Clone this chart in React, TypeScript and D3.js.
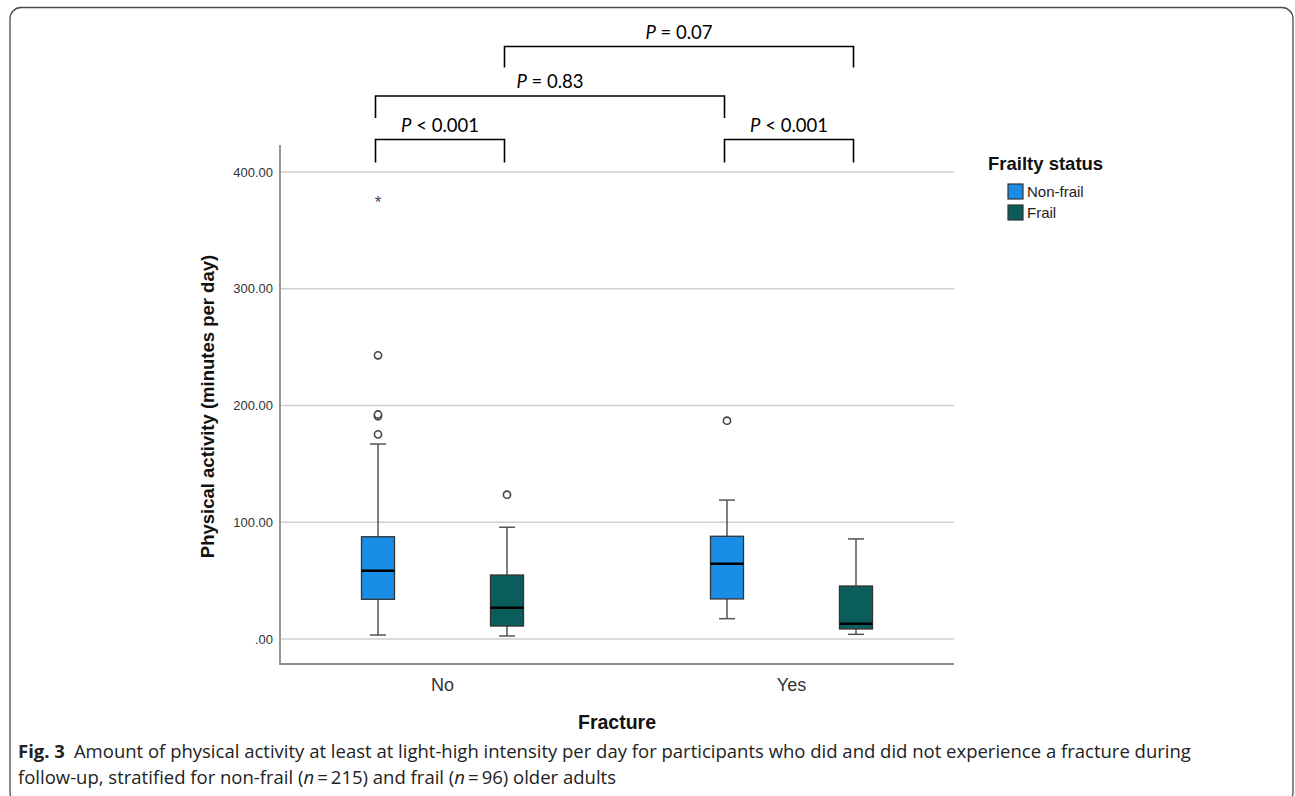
import React, { useEffect, useRef } from 'react';
import * as d3 from 'd3';

// categories
const fractureGroups = ['No', 'Yes'];
const frailtyGroups = ['Non-frail', 'Frail'];
const frailtyColors = ['#1a8de6', '#0b5d5b'];

// box stats, order: No/Non-frail, No/Frail, Yes/Non-frail, Yes/Frail
const boxFracture = ['No', 'No', 'Yes', 'Yes'];
const boxFrailty = ['Non-frail', 'Frail', 'Non-frail', 'Frail'];
const whiskerLow = [3.4, 2.6, 17.4, 4.0];
const quartile1 = [34.0, 11.1, 34.3, 8.6];
const medians = [58.5, 26.8, 64.5, 13.1];
const quartile3 = [87.6, 54.8, 88.0, 45.4];
const whiskerHigh = [167, 95.7, 119, 85.7];

// outliers (circles) and extremes (stars)
const outlierFracture = ['No', 'No', 'No', 'No', 'No', 'Yes'];
const outlierFrailty = ['Non-frail', 'Non-frail', 'Non-frail', 'Non-frail', 'Frail', 'Non-frail'];
const outlierValues = [175.3, 190.8, 192.3, 243, 123.6, 187];
const extremeFracture = ['No'];
const extremeFrailty = ['Non-frail'];
const extremeValues = [376];

const yTicks = [0, 100, 200, 300, 400];

// significance brackets
const bracketFrom = ['No|Non-frail', 'No|Non-frail', 'No|Frail', 'Yes|Non-frail'];
const bracketTo = ['No|Frail', 'Yes|Non-frail', 'Yes|Frail', 'Yes|Frail'];
const bracketOp = ['<', '=', '=', '<'];
const bracketP = ['0.001', '0.83', '0.07', '0.001'];
const bracketLevel = [0, 1, 2, 0];

const captionLine1 = 'Amount of physical activity at least at light-high intensity per day for participants who did and did not experience a fracture during';

const App = () => {
  const chartRef = useRef<SVGSVGElement>(null);

  useEffect(() => {
    const width = 1295;
    const height = 796;
    const axisFont = '"Liberation Sans", Arial, sans-serif';
    const plot = { left: 280, right: 954, top: 145, bottom: 664 };

    const svg = d3.select(chartRef.current)
      .attr('width', width)
      .attr('height', height);
    svg.selectAll('*').remove();

    // frame
    svg.append('rect')
      .attr('x', 10).attr('y', 7.5)
      .attr('width', 1283).attr('height', 796)
      .attr('rx', 11).attr('ry', 11)
      .attr('fill', '#fff')
      .attr('stroke', '#4a4a4a')
      .attr('stroke-width', 1.3);

    const xScale = d3.scalePoint<string>()
      .domain(fractureGroups)
      .range([442.5, 791.5]);

    const xSub = d3.scalePoint<string>()
      .domain(frailtyGroups)
      .range([-64.5, 64.5]);

    const yScale = d3.scaleLinear()
      .domain([0, 400])
      .range([639, 172]);

    const color = d3.scaleOrdinal<string, string>()
      .domain(frailtyGroups)
      .range(frailtyColors);

    const cx = (f: string, s: string) => (xScale(f) as number) + (xSub(s) as number);
    const boxW = 33;
    const capW = 16;

    // gridlines
    svg.append('g')
      .selectAll('line')
      .data(yTicks)
      .enter().append('line')
      .attr('x1', plot.left).attr('x2', plot.right)
      .attr('y1', d => yScale(d)).attr('y2', d => yScale(d))
      .attr('stroke', '#cfcfcf')
      .attr('stroke-width', 1.6);

    // y axis
    const yAxis = svg.append('g')
      .attr('transform', `translate(${plot.left},0)`)
      .call(d3.axisLeft(yScale).tickValues(yTicks).tickSize(0).tickPadding(7)
        .tickFormat(d => (+d === 0 ? '.00' : d3.format('.2f')(+d))));
    yAxis.select('.domain').remove();
    yAxis.selectAll('text')
      .attr('font-family', axisFont)
      .attr('font-size', 13)
      .attr('fill', '#333');

    // axis lines
    svg.append('path')
      .attr('d', `M${plot.left},${plot.top}V${plot.bottom}H${plot.right}`)
      .attr('fill', 'none')
      .attr('stroke', '#8c8c8c')
      .attr('stroke-width', 1.8);

    // x labels
    svg.append('g')
      .selectAll('text')
      .data(fractureGroups)
      .enter().append('text')
      .attr('x', d => xScale(d) as number)
      .attr('y', 691)
      .attr('text-anchor', 'middle')
      .attr('font-family', axisFont)
      .attr('font-size', 18)
      .attr('fill', '#333')
      .text(d => d);

    svg.append('text')
      .attr('x', (plot.left + plot.right) / 2)
      .attr('y', 729)
      .attr('text-anchor', 'middle')
      .attr('font-family', axisFont)
      .attr('font-weight', 'bold')
      .attr('font-size', 19.5)
      .attr('fill', '#111')
      .text('Fracture');

    svg.append('text')
      .attr('transform', `translate(214,${(plot.top + plot.bottom) / 2 + 2}) rotate(-90)`)
      .attr('text-anchor', 'middle')
      .attr('font-family', axisFont)
      .attr('font-weight', 'bold')
      .attr('font-size', 18.5)
      .attr('fill', '#111')
      .text('Physical activity (minutes per day)');

    // boxes
    const boxes = svg.append('g')
      .selectAll('g')
      .data(d3.range(boxFracture.length))
      .enter().append('g');

    boxes.append('line')
      .attr('x1', i => cx(boxFracture[i], boxFrailty[i]))
      .attr('x2', i => cx(boxFracture[i], boxFrailty[i]))
      .attr('y1', i => yScale(whiskerLow[i]))
      .attr('y2', i => yScale(whiskerHigh[i]))
      .attr('stroke', '#555')
      .attr('stroke-width', 1.5);

    [whiskerLow, whiskerHigh].forEach(arr => {
      boxes.append('line')
        .attr('x1', i => cx(boxFracture[i], boxFrailty[i]) - capW / 2)
        .attr('x2', i => cx(boxFracture[i], boxFrailty[i]) + capW / 2)
        .attr('y1', i => yScale(arr[i]))
        .attr('y2', i => yScale(arr[i]))
        .attr('stroke', '#555')
        .attr('stroke-width', 1.5);
    });

    boxes.append('rect')
      .attr('x', i => cx(boxFracture[i], boxFrailty[i]) - boxW / 2)
      .attr('width', boxW)
      .attr('y', i => yScale(quartile3[i]))
      .attr('height', i => yScale(quartile1[i]) - yScale(quartile3[i]))
      .attr('fill', i => color(boxFrailty[i]))
      .attr('stroke', '#333')
      .attr('stroke-width', 1.3);

    boxes.append('line')
      .attr('x1', i => cx(boxFracture[i], boxFrailty[i]) - boxW / 2)
      .attr('x2', i => cx(boxFracture[i], boxFrailty[i]) + boxW / 2)
      .attr('y1', i => yScale(medians[i]))
      .attr('y2', i => yScale(medians[i]))
      .attr('stroke', '#000')
      .attr('stroke-width', 2.5);

    // outliers
    svg.append('g')
      .selectAll('circle')
      .data(d3.range(outlierValues.length))
      .enter().append('circle')
      .attr('cx', i => cx(outlierFracture[i], outlierFrailty[i]))
      .attr('cy', i => yScale(outlierValues[i]))
      .attr('r', 3.6)
      .attr('fill', '#fff')
      .attr('stroke', '#444')
      .attr('stroke-width', 1.6);

    svg.append('g')
      .selectAll('text')
      .data(d3.range(extremeValues.length))
      .enter().append('text')
      .attr('x', i => cx(extremeFracture[i], extremeFrailty[i]))
      .attr('y', i => yScale(extremeValues[i]) + 8)
      .attr('text-anchor', 'middle')
      .attr('font-family', axisFont)
      .attr('font-size', 17)
      .attr('fill', '#444')
      .text('*');

    // legend
    const legend = svg.append('g').attr('transform', 'translate(988,0)');
    legend.append('text')
      .attr('x', 0).attr('y', 170)
      .attr('font-family', axisFont)
      .attr('font-weight', 'bold')
      .attr('font-size', 18.5)
      .attr('fill', '#111')
      .text('Frailty status');
    const items = legend.selectAll('g.item')
      .data(frailtyGroups)
      .enter().append('g')
      .attr('class', 'item')
      .attr('transform', (d, i) => `translate(20,${184 + i * 21})`);
    items.append('rect')
      .attr('width', 15).attr('height', 15)
      .attr('fill', d => color(d))
      .attr('stroke', '#333')
      .attr('stroke-width', 1.2);
    items.append('text')
      .attr('x', 19).attr('y', 13)
      .attr('font-family', axisFont)
      .attr('font-size', 15)
      .attr('fill', '#222')
      .text(d => d);

    // significance brackets
    const levelY = [139.5, 96, 46.5];
    const drop = [23, 22, 21];
    const pos = (key: string) => {
      const [f, s] = key.split('|');
      return cx(f, s) - 2.5;
    };
    const brackets = svg.append('g')
      .selectAll('g')
      .data(d3.range(bracketP.length))
      .enter().append('g');
    brackets.append('path')
      .attr('d', i => {
        const y = levelY[bracketLevel[i]];
        const dy = drop[bracketLevel[i]];
        return `M${pos(bracketFrom[i])},${y + dy}V${y}H${pos(bracketTo[i])}V${y + dy}`;
      })
      .attr('fill', 'none')
      .attr('stroke', '#000')
      .attr('stroke-width', 1.6);
    const pt = brackets.append('text')
      .attr('x', i => (pos(bracketFrom[i]) + pos(bracketTo[i])) / 2)
      .attr('y', i => levelY[bracketLevel[i]] - 8)
      .attr('text-anchor', 'middle')
      .attr('font-family', 'Lato, "Open Sans", sans-serif')
      .attr('font-size', 18.5)
      .attr('fill', '#000');
    pt.append('tspan').attr('font-style', 'italic').text('P');
    pt.append('tspan').text(i => ` ${bracketOp[i]} ${bracketP[i]}`);

    // caption
    const capFont = '"Open Sans", "Noto Sans", sans-serif';
    const c1 = svg.append('text')
      .attr('x', 18).attr('y', 758)
      .attr('font-family', capFont)
      .attr('font-size', 18.5)
      .attr('fill', '#222');
    c1.append('tspan').attr('font-weight', 'bold').text('Fig. 3');
    c1.append('tspan').attr('dx', 9).text(captionLine1);

    const c2 = svg.append('text')
      .attr('x', 18).attr('y', 784)
      .attr('font-family', capFont)
      .attr('font-size', 18.5)
      .attr('fill', '#222');
    c2.append('tspan').text('follow-up, stratified for non-frail (');
    c2.append('tspan').attr('font-style', 'italic').text('n');
    c2.append('tspan').text('\u2009=\u2009215) and frail (');
    c2.append('tspan').attr('font-style', 'italic').text('n');
    c2.append('tspan').text('\u2009=\u200996) older adults');
  }, []);

  return (
    <div style={{ position: 'absolute', left: 0, top: 0, width: 1295, height: 796, overflow: 'hidden' }}>
      <svg ref={chartRef} style={{ display: 'block' }}></svg>
    </div>
  );
};

export default App;
